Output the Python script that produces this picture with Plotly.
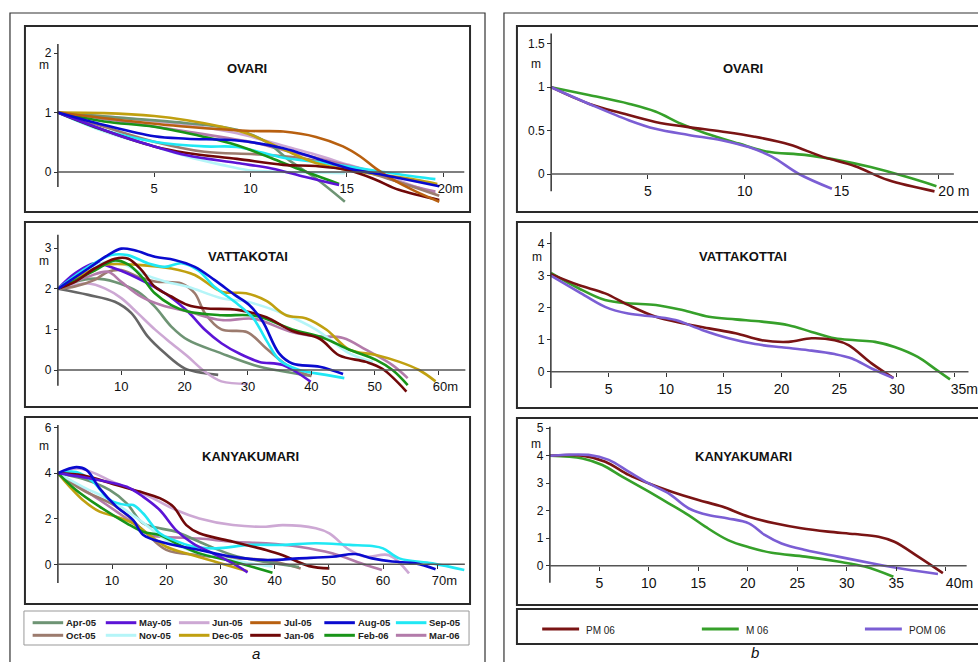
import plotly.graph_objects as go

W, H = 978, 662

# ---------------- data ----------------
MONTHS = ["Apr-05", "May-05", "Jun-05", "Jul-05", "Aug-05", "Sep-05",
          "Oct-05", "Nov-05", "Dec-05", "Jan-06", "Feb-06", "Mar-06"]
MONTH_COLORS = ["#6E9474", "#5C14D6", "#CDA8D4", "#B86010", "#0A0ACF", "#20E8F4",
                "#9C7B6E", "#B5F5F8", "#C0A010", "#700808", "#189418", "#B37BAA"]
EXTRA_NAME = "unlabelled"
EXTRA_COLOR = "#666666"

SEASONS = ["PM 06", "M 06", "POM 06"]
SEASON_COLORS = ["#7A1414", "#36A02A", "#7B5ED4"]

# panel a: monthly profiles  (distance m, elevation m)
OVARI_A = {
    "Nov-05": ([0, 2.4, 5, 6.7, 8.5, 9.9, 11.9, 13.5, 14.9], [1, 0.68, 0.43, 0.26, 0.12, 0.03, 0.0, -0.01, -0.02]),
    "Jun-05": ([0, 3.3, 6.7, 9.3, 11.7, 13.4, 15.1, 16.9, 18.6, 19.6], [1, 0.91, 0.79, 0.65, 0.44, 0.29, 0.12, -0.05, -0.25, -0.36]),
    "Mar-06": ([0, 3.3, 6.7, 10.2, 11.7, 14.3, 16, 17.7, 19.6], [1, 0.85, 0.68, 0.49, 0.37, 0.17, 0.03, -0.17, -0.33]),
    "Oct-05": ([0, 2.4, 5, 7.6, 10.2, 12.5, 14.8, 16, 18, 19.8], [1, 0.76, 0.51, 0.34, 0.3, 0.24, 0.09, 0.0, -0.2, -0.4]),
    "Apr-05": ([0, 3.3, 6.7, 9.3, 10.8, 12, 13.4, 14.9], [1, 0.91, 0.82, 0.71, 0.51, 0.2, -0.11, -0.5]),
    "Sep-05": ([0, 2.4, 5, 7.6, 9.3, 11.7, 13.4, 15.1, 16.9, 18.6, 19.6], [1, 0.7, 0.51, 0.43, 0.42, 0.24, 0.17, 0.09, 0.0, -0.08, -0.12]),
    "Dec-05": ([0, 2.4, 5, 6.7, 8.5, 9.9, 11.7, 13.4, 15.1, 16.9, 18.6, 19.7], [1, 0.99, 0.94, 0.87, 0.76, 0.64, 0.38, 0.15, 0.03, -0.05, -0.13, -0.2]),
    "Feb-06": ([0, 2.4, 5, 7.6, 9.3, 11.1, 12.5, 14.6], [1, 0.85, 0.76, 0.59, 0.45, 0.23, 0.05, -0.2]),
    "Jan-06": ([0, 2.4, 5, 6.7, 9.3, 11.7, 13.4, 15.1, 16.5, 17.7, 19.8], [1, 0.7, 0.43, 0.32, 0.22, 0.12, 0.1, 0.03, -0.13, -0.3, -0.47]),
    "May-05": ([0, 3.3, 5, 6.7, 9.3, 11.1, 12.8, 14.6], [1, 0.6, 0.43, 0.28, 0.15, 0.06, -0.08, -0.22]),
    "Jul-05": ([0, 3.3, 6.7, 10, 11.7, 13.4, 14.8, 15.7, 16.5, 17.4, 18.6, 19.8], [1, 0.87, 0.76, 0.69, 0.68, 0.59, 0.43, 0.26, 0.06, -0.13, -0.33, -0.5]),
    "Aug-05": ([0, 2.4, 5, 6.7, 9.3, 11.7, 13.4, 15.1, 16.9, 18.6, 19.8], [1, 0.79, 0.6, 0.56, 0.53, 0.4, 0.23, 0.06, -0.05, -0.16, -0.24]),
}

VATTAKOTAI_A = {
    "unlabelled": ([0, 4.8, 9, 11.6, 14.2, 16.9, 20, 23.2, 25.3], [2, 1.85, 1.68, 1.4, 0.82, 0.41, 0.04, -0.08, -0.12]),
    "Jun-05": ([0, 4.8, 7.4, 10, 12.6, 15.3, 17.9, 20.5, 23.2, 25.8, 30], [2, 2.13, 2.01, 1.77, 1.4, 1.0, 0.66, 0.33, -0.04, -0.28, -0.34]),
    "Apr-05": ([0, 2.7, 5.8, 9, 12.6, 15.3, 17.9, 20.5, 25.8, 31, 35, 40], [2, 2.17, 2.25, 2.17, 1.93, 1.56, 1.07, 0.74, 0.41, 0.12, -0.02, -0.15]),
    "Oct-05": ([0, 2.7, 5.8, 7.9, 10, 12.6, 15.3, 19.5, 21.6, 23.2, 25.8, 29.9, 32.9, 36.5, 40], [2, 2.06, 2.22, 2.42, 2.46, 2.3, 2.18, 2.13, 1.89, 1.4, 1.0, 0.93, 0.53, 0.08, -0.15]),
    "May-05": ([0, 2.7, 5.8, 9, 12.6, 16.9, 20.5, 23.2, 25.8, 28.7, 31.8, 35.5, 39.9], [2, 2.38, 2.63, 2.5, 2.26, 1.89, 1.44, 0.99, 0.66, 0.4, 0.2, 0.12, -0.29]),
    "Mar-06": ([0, 4.8, 7.9, 10, 13.2, 16.3, 20.5, 25.8, 31, 36.6, 40.8, 45, 48.6, 52.8, 55.2], [2, 2.3, 2.42, 2.17, 1.8, 1.6, 1.44, 1.23, 1.26, 0.95, 0.83, 0.79, 0.5, 0.12, -0.2]),
    "Nov-05": ([0, 4.8, 7.4, 10, 13.2, 16.9, 20.5, 25.8, 29.9, 35.5, 40.8, 46, 49.7], [2, 2.46, 2.66, 2.63, 2.38, 2.18, 2.05, 1.77, 1.68, 1.39, 0.99, 0.41, 0.2]),
    "Dec-05": ([0, 4.8, 7.4, 12.6, 17.9, 21.6, 25.8, 29.7, 32.9, 36, 39.2, 42.4, 46, 50.2, 53.9, 57, 59.6], [2, 2.42, 2.59, 2.59, 2.5, 2.34, 1.93, 1.89, 1.7, 1.35, 1.27, 0.99, 0.5, 0.37, 0.2, 0.0, -0.28]),
    "Feb-06": ([0, 2.7, 5.8, 9, 11.1, 13.2, 15.3, 17.9, 20.5, 25.8, 31.3, 37, 41.9, 46, 50.2, 52.8, 55.2], [2, 2.2, 2.45, 2.7, 2.6, 2.3, 1.89, 1.6, 1.44, 1.35, 1.33, 1.0, 0.79, 0.5, 0.25, 0.0, -0.37]),
    "Jan-06": ([0, 2.7, 5.8, 9, 11.1, 13.2, 15.3, 17.9, 20.5, 23.2, 28.4, 32.9, 37, 41.3, 44.4, 48.6, 51.2, 55], [2, 2.17, 2.5, 2.74, 2.74, 2.46, 2.05, 1.81, 1.6, 1.52, 1.48, 1.3, 0.96, 0.77, 0.36, 0.2, 0.03, -0.53]),
    "Sep-05": ([0, 4.8, 8.4, 11, 14.2, 16.9, 19.5, 22.1, 24.7, 27.9, 30.8, 32.9, 35, 38.1, 42.3, 45.2], [2, 2.54, 2.83, 2.83, 2.63, 2.54, 2.63, 2.46, 2.05, 1.68, 1.28, 0.73, 0.24, 0.0, -0.12, -0.2]),
    "Aug-05": ([0, 4.8, 7.9, 10, 12.1, 15.3, 18.4, 21.6, 24.7, 27.9, 30.2, 32.3, 34.9, 37, 41.3, 45], [2, 2.5, 2.83, 2.99, 2.95, 2.79, 2.71, 2.54, 2.22, 1.85, 1.6, 1.2, 0.41, 0.16, 0.08, -0.1]),
}

KANYAKUMARI_A = {
    "Jun-05": ([0, 4, 10.8, 16.9, 21.8, 26.1, 32.3, 38.4, 41.5, 47.6, 50.1, 53.8, 56.8, 61.1, 64.8], [4, 4.2, 3.55, 2.97, 2.38, 2.01, 1.72, 1.65, 1.72, 1.58, 1.36, 0.63, 0.33, 0.4, -0.4]),
    "Mar-06": ([0, 7.7, 13.9, 16.9, 20, 26.1, 32.3, 38.4, 44.5, 50.6, 56.8, 59.8], [4, 2.82, 1.8, 1.28, 1.2, 1.13, 0.99, 0.92, 0.77, 0.48, -0.03, -0.25]),
    "Oct-05": ([0, 4.6, 10.8, 15.7, 20, 26.1, 32.3, 38.4, 44.8], [4, 3.25, 2.53, 1.5, 0.63, 0.4, 0.26, 0.19, -0.18]),
    "Apr-05": ([0, 4.6, 9.6, 12.7, 15.7, 18.8, 21.8, 26.1, 32.3, 38.4, 44.5], [4, 3.75, 3.25, 2.67, 1.8, 1.58, 1.43, 0.99, 0.4, 0.1, -0.12]),
    "Nov-05": ([0, 4.6, 9.6, 15.1, 20, 26.1, 32.3, 37.2, 39.6], [4, 3.4, 2.82, 1.94, 1.07, 0.48, 0.19, -0.03, -0.1]),
    "Dec-05": ([0, 2.2, 4.6, 7.7, 10.8, 13.9, 16.9, 20, 24.9, 29.2, 35], [4, 3.4, 2.82, 2.31, 2.09, 1.8, 1.28, 0.77, 0.4, 0.1, -0.31]),
    "Feb-06": ([0, 3.4, 7.7, 12.7, 15.7, 18.8, 21.8, 26.1, 32.3, 39.6], [4, 3.25, 2.53, 1.8, 1.43, 1.28, 0.92, 0.48, 0.12, -0.37]),
    "Sep-05": ([0, 3.4, 6.5, 9.6, 12.7, 13.9, 15.7, 18.8, 21.3, 24.9, 29.2, 35.4, 41.5, 47.6, 53.8, 58, 60, 63, 69.1, 75], [4, 4.05, 3.62, 2.82, 2.6, 2.6, 2.24, 1.36, 1.07, 0.78, 0.7, 0.85, 0.85, 0.92, 0.85, 0.8, 0.7, 0.26, 0.04, -0.25]),
    "Jan-06": ([0, 4.6, 10.8, 15.1, 18.8, 21.3, 23.7, 26.1, 32.3, 38.4, 41.5, 46.4, 50.1], [4, 3.9, 3.48, 3.19, 2.9, 2.53, 1.72, 1.36, 0.99, 0.63, 0.4, -0.08, -0.18]),
    "May-05": ([0, 7.7, 12.7, 15.7, 18.8, 21.8, 24.9, 28.6, 32.3, 35], [4, 3.69, 3.4, 2.97, 2.38, 1.5, 0.92, 0.48, 0.04, -0.35]),
    "Aug-05": ([0, 3.4, 5.3, 7.7, 10.8, 13.9, 15.7, 20, 26.1, 32.3, 38.4, 44.5, 50.6, 54.9, 58, 61.7, 66, 69.7], [4, 4.26, 4.13, 3.33, 2.53, 1.94, 1.3, 0.92, 0.63, 0.33, 0.19, 0.26, 0.33, 0.45, 0.26, 0.12, 0.04, -0.22]),
}

# panel b: seasonal profiles
OVARI_B = {
    "M 06": ([0, 1.94, 4, 5.38, 6.7, 7.96, 9.7, 11.1, 13.1, 14.8, 16.5, 18.3, 19.9], [1, 0.91, 0.81, 0.72, 0.58, 0.47, 0.35, 0.26, 0.22, 0.16, 0.08, -0.03, -0.14]),
    "PM 06": ([0, 1.94, 3.66, 5.38, 7.1, 8.8, 10.5, 12.3, 14, 15.7, 17.4, 19.8], [1, 0.81, 0.7, 0.6, 0.54, 0.49, 0.43, 0.34, 0.2, 0.09, -0.07, -0.2]),
    "POM 06": ([0, 1.94, 4, 5.38, 7.1, 8.8, 10.2, 11.4, 12.8, 14.5], [1, 0.81, 0.62, 0.52, 0.45, 0.39, 0.31, 0.2, 0.0, -0.17]),
}
VATTAKOTTAI_B = {
    "M 06": ([0, 2.4, 4.7, 6.7, 9.1, 11.4, 13.7, 16, 18.3, 20.6, 22.6, 24.6, 26.4, 28.1, 29.8, 31.8, 33.3, 34.6], [3.08, 2.6, 2.23, 2.13, 2.08, 1.92, 1.71, 1.63, 1.56, 1.45, 1.24, 1.04, 0.98, 0.93, 0.77, 0.46, 0.09, -0.24]),
    "PM 06": ([0, 2.4, 4.7, 6.7, 9.1, 11.4, 13.7, 16, 18.3, 20.6, 22.6, 24.6, 25.8, 27.8, 29.7], [3.04, 2.7, 2.44, 2.08, 1.71, 1.51, 1.35, 1.2, 0.98, 0.93, 1.04, 0.98, 0.83, 0.26, -0.2]),
    "POM 06": ([0, 2.4, 4.7, 6.7, 9.1, 10.8, 13.1, 15.4, 17.7, 20, 22.3, 24.6, 26.1, 27.8, 29.7], [2.99, 2.49, 2.02, 1.81, 1.71, 1.61, 1.3, 1.04, 0.86, 0.76, 0.67, 0.55, 0.41, 0.1, -0.2]),
}
KANYAKUMARI_B = {
    "M 06": ([0, 3.3, 5.3, 7.3, 10, 12, 14, 15.7, 18, 20.1, 22.4, 25.8, 29.1, 31.8, 34.7], [4, 3.9, 3.66, 3.24, 2.69, 2.27, 1.84, 1.42, 0.93, 0.67, 0.47, 0.33, 0.15, -0.03, -0.4]),
    "PM 06": ([0, 3.3, 5.6, 7.96, 10, 12.3, 15, 17.4, 20.1, 22.7, 25.4, 28.1, 30.8, 33.2, 34.8, 37.2, 39.7], [4, 4, 3.78, 3.3, 2.99, 2.69, 2.39, 2.15, 1.78, 1.54, 1.36, 1.24, 1.15, 1.05, 0.87, 0.33, -0.27]),
    "POM 06": ([0, 3.9, 5.95, 7.96, 10, 12, 14, 16, 18, 20.1, 21.7, 23.4, 25.8, 29.1, 32.5, 35.9, 39.2], [4, 4.03, 3.85, 3.42, 2.99, 2.63, 2.09, 1.84, 1.72, 1.54, 1.12, 0.81, 0.57, 0.33, 0.09, -0.13, -0.3]),
}

# axis ticks
A1_XT, A1_YT = [5, 10, 15, 20], [0, 1, 2]
A2_XT, A2_YT = [10, 20, 30, 40, 50, 60], [0, 1, 2, 3]
A3_XT, A3_YT = [10, 20, 30, 40, 50, 60, 70], [0, 2, 4, 6]
B1_XT, B1_YT = [5, 10, 15, 20], [0, 0.5, 1, 1.5]
B2_XT, B2_YT = [5, 10, 15, 20, 25, 30, 35], [0, 1, 2, 3, 4]
B3_XT, B3_YT = [5, 10, 15, 20, 25, 30, 35, 40], [0, 1, 2, 3, 4, 5]

# ---------------- layout helpers ----------------
def fx(px):
    return px / W

def fy(py):
    return 1 - py / H

COLOR_OF = dict(zip(MONTHS, MONTH_COLORS))
COLOR_OF.update(dict(zip(SEASONS, SEASON_COLORS)))
COLOR_OF[EXTRA_NAME] = EXTRA_COLOR

NB = "\u00a0"
PANELS = [
    dict(title="OVARI", data=OVARI_A, box=(25, 26, 471, 212), origin=(58, 172), scale=(19.3, 59.5),
         xt=A1_XT, xunit=("20m", 4), yt=A1_YT, ylab=None, xend=21.1, yext=(-0.25, 2.15),
         tpos=(247.5, 68), mpos=(51, 65), xfs=13, yfs=12),
    dict(title="VATTAKOTAI", data=VATTAKOTAI_A, box=(25, 222, 471, 407), origin=(58, 370), scale=(6.35, 40.6),
         xt=A2_XT, xunit=("60m", 4), yt=A2_YT, ylab=None, xend=64.3, yext=(-0.39, 3.33),
         tpos=(249, 256), mpos=(51, 261), xfs=13, yfs=12),
    dict(title="KANYAKUMARI", data=KANYAKUMARI_A, box=(25, 417, 471, 604), origin=(58, 564.3), scale=(5.43, 22.8),
         xt=A3_XT, xunit=("70m", 4), yt=A3_YT, ylab=None, xend=75.1, yext=(-0.82, 6.11),
         tpos=(251, 456.7), mpos=(51, 446), xfs=13, yfs=12),
    dict(title="OVARI", data=OVARI_B, box=(518, 26, 990, 212), origin=(552.3, 174), scale=(19.4, 86.8),
         xt=B1_XT, xunit=("20" + NB + "m", 8), yt=B1_YT, ylab=["0", "0.5", "1", "1.5"], xend=20.8, yext=(-0.2, 1.62),
         tpos=(744.5, 69), mpos=(544, 64), xfs=14, yfs=12),
    dict(title="VATTAKOTTAI", data=VATTAKOTTAI_B, box=(518, 222, 990, 408), origin=(552, 371.7), scale=(11.56, 32.1),
         xt=B2_XT, xunit=("35m", 5), yt=B2_YT, ylab=None, xend=36.2, yext=(-0.51, 4.35),
         tpos=(745, 256), mpos=(545, 257), xfs=14, yfs=12),
    dict(title="KANYAKUMARI", data=KANYAKUMARI_B, box=(518, 418, 990, 605), origin=(551, 565.7), scale=(9.92, 27.5),
         xt=B3_XT, xunit=("40m", 7), yt=B3_YT, ylab=None, xend=42.1, yext=(-0.62, 5.05),
         tpos=(745, 456.7), mpos=(544, 444), xfs=14, yfs=12),
]

FONT = "Arial, Liberation Sans, sans-serif"
fig = go.Figure()
shapes, annotations = [], []
layout_axes = {}

for i, p in enumerate(PANELS):
    n = "" if i == 0 else str(i + 1)
    L, T, R, B = p["box"]
    x0, y0 = p["origin"]
    sx, sy = p["scale"]
    pl, pt, pr, pb = L + 2, T + 2, min(R, W), B - 2
    xr = [(pl - x0) / sx, (pr - x0) / sx]
    yr = [(y0 - pb) / sy, (y0 - pt) / sy]

    for name, (xs, ys) in p["data"].items():
        fig.add_trace(go.Scatter(
            x=xs, y=ys, mode="lines", name=name, showlegend=False,
            line=dict(color=COLOR_OF[name], width=2.6, shape="spline", smoothing=1.0),
            xaxis="x" + n, yaxis="y" + n, hoverinfo="skip"))

    xt = p["xt"]
    last_txt, pad = p["xunit"]
    xtext = [str(v) for v in xt[:-1]] + [NB * pad + last_txt]
    ytext = p["ylab"] if p["ylab"] else [str(v) for v in p["yt"]]
    layout_axes["xaxis" + n] = dict(
        domain=[fx(pl), fx(pr)], range=xr, anchor="free", position=fy(y0),
        showgrid=False, zeroline=False, showline=False, ticks="outside", ticklen=4,
        tickwidth=1.2, tickcolor="#333", tickvals=xt, ticktext=xtext, ticklabeloverflow="allow",
        tickfont=dict(family=FONT, size=p["xfs"], color="#111"), fixedrange=True)
    layout_axes["yaxis" + n] = dict(
        domain=[fy(pb), fy(pt)], range=yr, anchor="free", position=fx(x0),
        showgrid=False, zeroline=False, showline=False, ticks="outside", ticklen=4,
        tickwidth=1.2, tickcolor="#333", tickvals=p["yt"], ticktext=ytext, ticklabeloverflow="allow",
        tickfont=dict(family=FONT, size=p["yfs"], color="#111"), fixedrange=True)

    # axis lines through origin
    ye0, ye1 = p["yext"]
    shapes.append(dict(type="line", xref="x" + n, yref="y" + n, x0=0, x1=0, y0=ye0, y1=ye1,
                       line=dict(color="#333", width=1.5)))
    shapes.append(dict(type="line", xref="x" + n, yref="y" + n, x0=0, x1=p["xend"], y0=0, y1=0,
                       line=dict(color="#555", width=1.5)))
    # panel frame
    shapes.append(dict(type="rect", xref="paper", yref="paper", x0=fx(L), x1=fx(R), y0=fy(B), y1=fy(T),
                       line=dict(color="#2a2a2a", width=2)))
    annotations.append(dict(text="<b>%s</b>" % p["title"], xref="paper", yref="paper",
                            x=fx(p["tpos"][0]), y=fy(p["tpos"][1]), showarrow=False,
                            xanchor="center", yanchor="middle",
                            font=dict(family=FONT, size=13, color="#111")))
    annotations.append(dict(text="m", xref="paper", yref="paper", x=fx(p["mpos"][0]), y=fy(p["mpos"][1]),
                            showarrow=False, xanchor="right", yanchor="middle",
                            font=dict(family=FONT, size=12, color="#111")))

# outer frames
shapes.append(dict(type="rect", xref="paper", yref="paper", x0=fx(10), x1=fx(486), y0=fy(690), y1=fy(13),
                   line=dict(color="#333", width=1.2)))
shapes.append(dict(type="rect", xref="paper", yref="paper", x0=fx(505), x1=fx(1010), y0=fy(690), y1=fy(13),
                   line=dict(color="#333", width=1.2)))

# legend a (monthly)
shapes.append(dict(type="rect", xref="paper", yref="paper", x0=fx(24), x1=fx(470), y0=fy(645), y1=fy(611),
                   line=dict(color="#999", width=1)))
col_x = [32.7, 106, 179.3, 250.7, 325, 396.7]
row_y = [622.7, 635.3]
for k, (name, col) in enumerate(zip(MONTHS, MONTH_COLORS)):
    cx, ry = col_x[k % 6], row_y[k // 6]
    shapes.append(dict(type="line", xref="paper", yref="paper", x0=fx(cx), x1=fx(cx + 30.6), y0=fy(ry), y1=fy(ry),
                       line=dict(color=col, width=3)))
    annotations.append(dict(text="<b>%s</b>" % name, xref="paper", yref="paper", x=fx(cx + 31.5), y=fy(ry),
                            showarrow=False, xanchor="left", yanchor="middle",
                            font=dict(family=FONT, size=9.5, color="#222")))

# legend b (seasonal)
shapes.append(dict(type="rect", xref="paper", yref="paper", x0=fx(518), x1=fx(990), y0=fy(644), y1=fy(609),
                   line=dict(color="#2a2a2a", width=2)))
sx_start = [543.3, 703.3, 866.7]
for k, (name, col) in enumerate(zip(SEASONS, SEASON_COLORS)):
    cx = sx_start[k]
    shapes.append(dict(type="line", xref="paper", yref="paper", x0=fx(cx), x1=fx(cx + 37), y0=fy(629), y1=fy(629),
                       line=dict(color=col, width=3)))
    annotations.append(dict(text=name, xref="paper", yref="paper", x=fx(cx + 42), y=fy(630.5),
                            showarrow=False, xanchor="left", yanchor="middle",
                            font=dict(family=FONT, size=10, color="#222")))

annotations.append(dict(text="<i>a</i>", xref="paper", yref="paper", x=fx(257), y=fy(653), showarrow=False,
                        xanchor="center", yanchor="middle", font=dict(family=FONT, size=15, color="#111")))
annotations.append(dict(text="<i>b</i>", xref="paper", yref="paper", x=fx(757), y=fy(652), showarrow=False,
                        xanchor="center", yanchor="middle", font=dict(family=FONT, size=15, color="#111")))

fig.update_layout(
    width=W, height=H, autosize=False,
    margin=dict(l=0, r=0, t=0, b=0, pad=0),
    paper_bgcolor="white", plot_bgcolor="rgba(0,0,0,0)",
    showlegend=False, shapes=shapes, annotations=annotations,
    **layout_axes)

fig.write_html("out.html", config={"displayModeBar": False},
               post_script="document.body.style.margin='0';document.body.style.overflow='hidden';")
